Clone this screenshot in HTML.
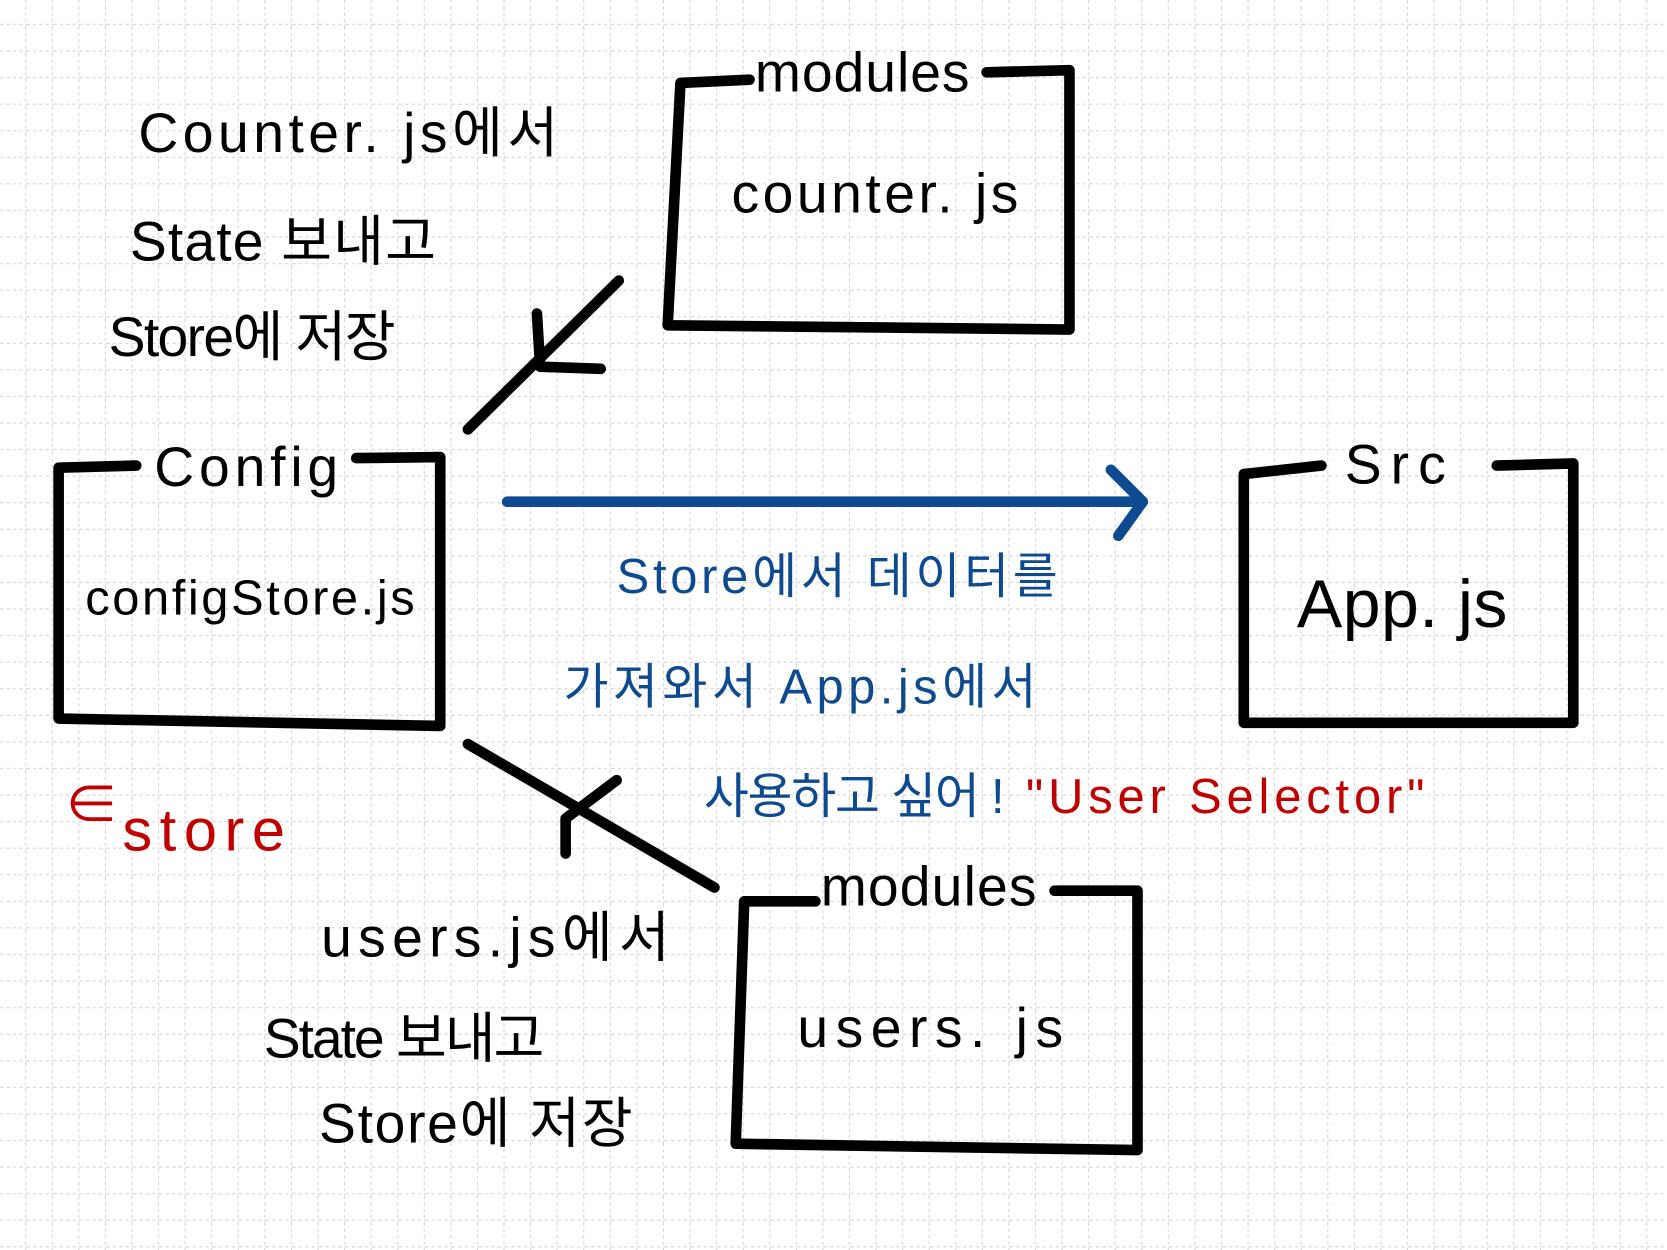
<!DOCTYPE html>
<html><head><meta charset="utf-8">
<style>
html,body{margin:0;padding:0;background:#fff;}
svg{display:block;}
text{font-family:"Liberation Sans","Noto Sans CJK KR",sans-serif;}
</style></head>
<body>
<svg width="1667" height="1250" viewBox="0 0 1568 1176" xmlns="http://www.w3.org/2000/svg">
<defs>
<pattern id="g" width="25" height="25" patternUnits="userSpaceOnUse" x="0" y="0">
<line x1="0" y1="23" x2="25" y2="23" stroke="#d4d4d4" stroke-width="1" stroke-dasharray="3 3"/>
<line x1="24" y1="0" x2="24" y2="25" stroke="#d4d4d4" stroke-width="1" stroke-dasharray="3 3"/>
</pattern>
</defs>
<rect width="1568" height="1176" fill="url(#g)"/>
<g fill="none" stroke="#000" stroke-width="10" stroke-linecap="round" stroke-linejoin="round">
<path d="M705 75 L640 78 L628 306 L1006 310 L1006 66 L928 68"/>
<path d="M128 438 L55 440 L55 676 L414 683 L414 430 L335 431"/>
<path d="M1243 438 L1170 446 L1170 680 L1480 680 L1480 436 L1408 438"/>
<path d="M767 848 L700 848 L692 1076 L1070 1082 L1070 838 L992 838"/>
<path d="M440 404 L582 264"/>
<path d="M505 295 L508 345 L565 347"/>
<path d="M440 700 L672 835"/>
<path d="M532 803 L532 770 L580 734"/>
</g>
<g fill="none" stroke="#0d4a8f" stroke-width="10" stroke-linecap="round" stroke-linejoin="round">
<path d="M477 472 L1075 472"/>
<path d="M1045 442 L1075 472 L1052 504"/>
</g>
<g font-size="52" fill="#000" lengthAdjust="spacing">
<text x="710" y="86" textLength="202" lengthAdjust="spacing">modules</text>
<text x="688" y="200" textLength="270" lengthAdjust="spacing">counter. js</text>
<text x="145" y="457" textLength="173" lengthAdjust="spacing">Config</text>
<text x="80" y="578" font-size="46" textLength="310" lengthAdjust="spacing">configStore.js</text>
<text x="1265" y="455" textLength="95" lengthAdjust="spacing">Src</text>
<text x="1220" y="590" font-size="64" textLength="198" lengthAdjust="spacing">App. js</text>
<text x="772" y="852" textLength="203" lengthAdjust="spacing">modules</text>
<text x="750" y="985" textLength="250" lengthAdjust="spacing">users. js</text>
<text x="130" y="143" textLength="395" lengthAdjust="spacing">Counter. js에서</text>
<text x="122" y="245" textLength="288" lengthAdjust="spacing">State  보내고</text>
<text x="102" y="335" textLength="270" lengthAdjust="spacing">Store에  저장</text>
<text x="302" y="900" textLength="328" lengthAdjust="spacing">users.js에서</text>
<text x="248" y="995" textLength="264" lengthAdjust="spacing">State 보내고</text>
<text x="300" y="1075" textLength="295" lengthAdjust="spacing">Store에  저장</text>
</g>
<g font-size="46" fill="#0d4a8f">
<text x="580" y="558" textLength="415" lengthAdjust="spacing">Store에서   데이터를</text>
<text x="530" y="662" textLength="445" lengthAdjust="spacing">가져와서   App.js에서</text>
<text x="662" y="765" textLength="283" lengthAdjust="spacing">사용하고   싶어 !</text>
</g>
<text x="965" y="765" font-size="46" fill="#c00000" textLength="375" lengthAdjust="spacing">"User Selector"</text>
<text x="60" y="775" font-size="52" fill="#c00000">∈</text>
<text x="115" y="800" font-size="56" fill="#c00000" textLength="153" lengthAdjust="spacing">store</text>
</svg>
</body></html>
